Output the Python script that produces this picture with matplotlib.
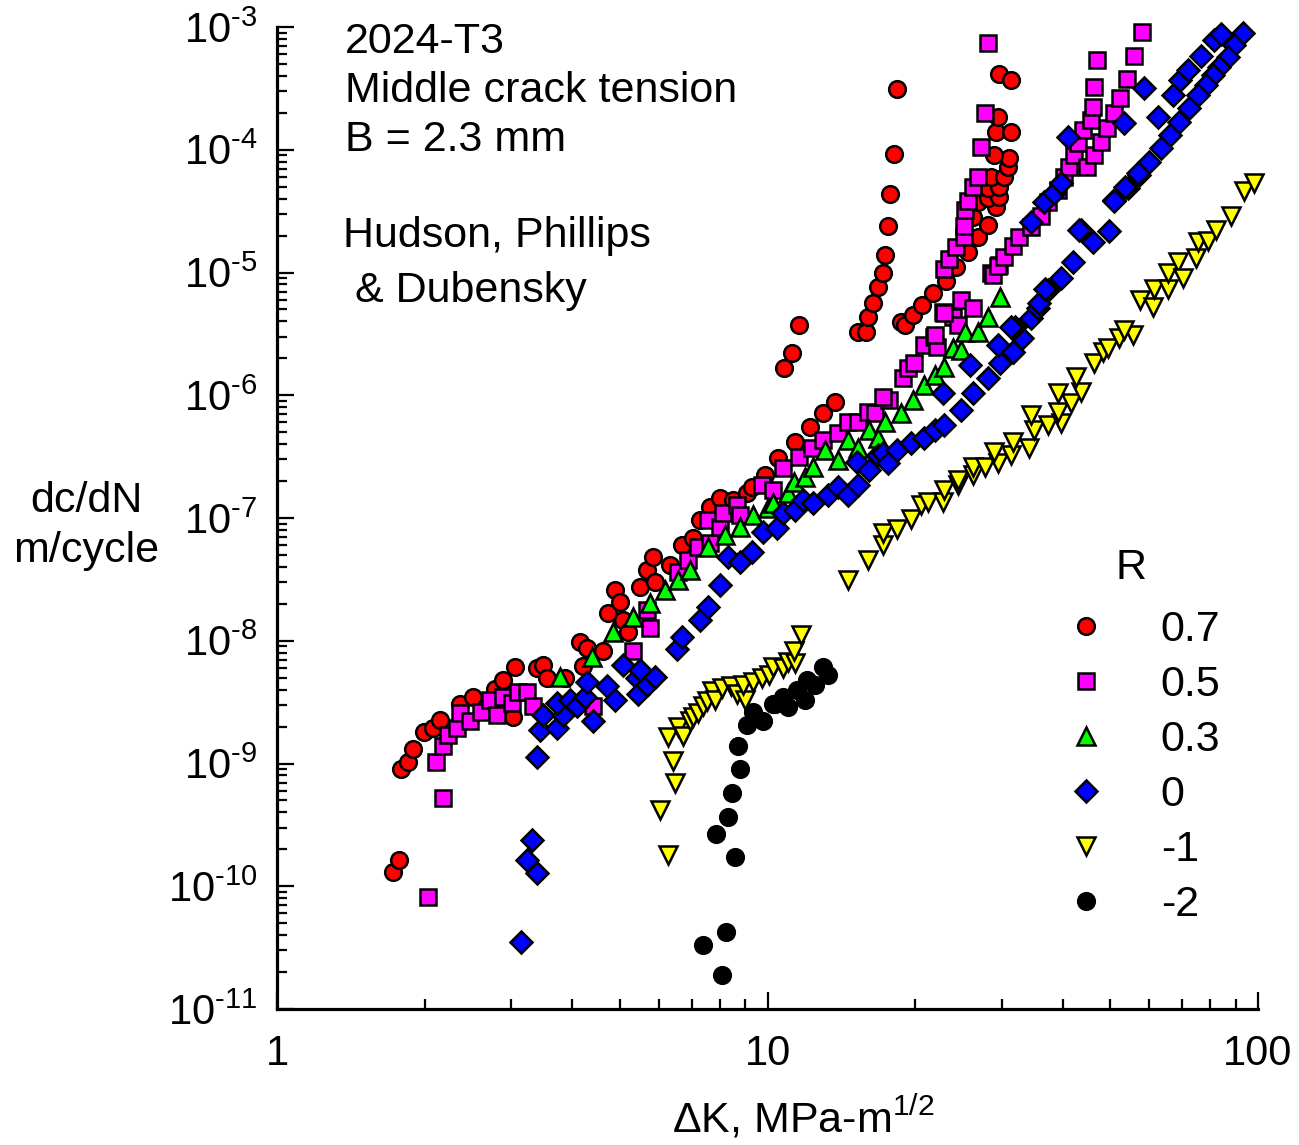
import matplotlib
matplotlib.use('Agg')
import numpy as np
import matplotlib.pyplot as plt
from matplotlib.ticker import LogLocator, FuncFormatter, NullFormatter

plt.rcParams['font.family'] = ['Liberation Sans', 'DejaVu Sans']
plt.rcParams['mathtext.fontset'] = 'custom'
plt.rcParams['mathtext.rm'] = 'Liberation Sans'
plt.rcParams['mathtext.it'] = 'Liberation Sans:italic'
plt.rcParams['mathtext.bf'] = 'Liberation Sans:bold'

# R = 0.7
r07_dk = [1.72, 1.77, 1.79, 1.85, 1.89, 1.99, 2.08, 2.15, 2.36, 2.51,
          2.78, 2.89, 3.06, 3.03, 3.39, 3.49, 3.56, 3.87, 4.15, 4.29,
          4.21, 4.63, 4.74, 4.89, 5.00, 5.08, 5.20, 5.50, 5.69, 5.85,
          5.90, 6.34, 6.70, 7.06, 7.30, 7.65, 8.00, 8.00, 8.52, 9.10,
          9.31, 9.90, 10.5, 11.4, 12.2, 12.95, 13.7, 10.8, 11.2, 11.6,
          15.3, 15.85, 16.0, 16.4, 16.8, 17.2, 17.4, 17.6, 17.8, 18.1,
          18.4, 18.7, 19.1, 19.8, 20.7, 21.7, 23.1, 24.2, 25.6, 26.9,
          28.2, 26.3, 29.2, 26.9, 28.1, 29.7, 28.1, 29.7, 28.5, 30.3,
          30.9, 31.0, 28.9, 29.2, 31.3, 29.5, 29.7, 31.3]
r07_rate = [1.3e-10, 1.63e-10, 9.0e-10, 1.02e-9, 1.32e-9, 1.79e-9, 1.96e-9, 2.28e-9, 3.03e-9, 3.45e-9,
            4.08e-9, 4.83e-9, 6.16e-9, 2.41e-9, 6.05e-9, 6.4e-9, 5.0e-9, 5.0e-9, 9.7e-9, 8.8e-9,
            6.2e-9, 8.2e-9, 1.69e-8, 2.6e-8, 2.08e-8, 1.48e-8, 1.18e-8, 2.75e-8, 3.79e-8, 4.83e-8,
            3.03e-8, 4.16e-8, 6.05e-8, 6.9e-8, 9.7e-8, 1.23e-7, 1.46e-7, 1.02e-7, 1.40e-7, 1.60e-7,
            1.79e-7, 2.24e-7, 3.08e-7, 4.16e-7, 5.5e-7, 7.2e-7, 8.8e-7, 1.66e-6, 2.2e-6, 3.72e-6,
            3.26e-6, 3.26e-6, 4.32e-6, 5.6e-6, 7.6e-6, 1.0e-5, 1.40e-5, 2.37e-5, 4.4e-5, 9.3e-5,
            3.14e-4, 3.93e-6, 3.72e-6, 4.48e-6, 5.4e-6, 6.8e-6, 8.6e-6, 1.10e-5, 1.46e-5, 1.93e-5,
            2.46e-5, 2.81e-5, 3.39e-5, 3.72e-5, 4.08e-5, 4.16e-5, 4.9e-5, 5.0e-5, 6.05e-5, 6.05e-5,
            7.3e-5, 8.6e-5, 9.1e-5, 1.40e-4, 1.40e-4, 1.86e-4, 4.16e-4, 3.72e-4]

# R = 0.5
r05_dk = [2.03, 2.18, 2.11, 2.18, 2.23, 2.33, 2.36, 2.48, 2.60, 2.72,
          2.81, 2.89, 3.02, 3.10, 3.24, 3.33, 4.41, 5.33, 5.77, 5.69,
          6.58, 6.89, 7.23, 7.65, 7.58, 8.00, 8.13, 8.68, 8.80, 9.76,
          10.28, 10.73, 11.57, 12.35, 13.0, 13.9, 14.6, 15.3, 16.0, 16.6,
          17.7, 17.2, 18.9, 19.3, 19.9, 20.8, 21.8, 22.2, 22.75, 23.9,
          24.8, 26.2, 24.4, 22.9, 23.4, 24.2, 25.1, 25.1, 25.3, 25.6,
          26.2, 26.8, 27.3, 27.7, 28.1, 28.5, 29.6, 28.8, 29.5, 30.3,
          31.6, 32.5, 34.4, 36.1, 37.4, 39.1, 40.2, 41.1, 42.1, 42.9,
          43.9, 44.8, 46.3, 47.8, 49.2, 45.6, 46.0, 46.3, 47.0, 50.8,
          52.3, 54.0, 55.8, 57.9, 22.9, 22.0]
r05_rate = [8.2e-11, 5.2e-10, 1.02e-9, 1.40e-9, 1.72e-9, 1.96e-9, 2.6e-9, 2.2e-9, 2.65e-9, 3.32e-9,
            2.5e-9, 3.51e-9, 3.14e-9, 3.79e-9, 3.79e-9, 2.92e-9, 2.92e-9, 8.2e-9, 1.28e-8, 1.79e-8,
            3.65e-8, 4.57e-8, 5.83e-8, 6.28e-8, 9.7e-8, 8.5e-8, 1.10e-7, 1.28e-7, 1.06e-7, 1.86e-7,
            1.69e-7, 2.55e-7, 3.14e-7, 3.72e-7, 4.32e-7, 4.92e-7, 6.05e-7, 6.05e-7, 7.3e-7, 7.2e-7,
            9.1e-7, 9.7e-7, 1.38e-6, 1.66e-6, 1.82e-6, 2.55e-6, 2.97e-6, 2.46e-6, 4.74e-6, 4.32e-6,
            5.95e-6, 5.1e-6, 3.72e-6, 1.06e-5, 1.28e-5, 1.6e-5, 1.93e-5, 2.37e-5, 3.26e-5, 3.79e-5,
            5.0e-5, 6.05e-5, 1.06e-4, 2.0e-4, 7.4e-4, 1.0e-5, 1.16e-5, 9.5e-6, 1.12e-5, 1.35e-5,
            1.63e-5, 1.96e-5, 2.33e-5, 2.86e-5, 3.72e-5, 4.74e-5, 6.05e-5, 7.3e-5, 9.1e-5, 1.14e-4,
            1.46e-4, 7.3e-5, 9.1e-5, 1.16e-4, 1.51e-4, 1.76e-4, 2.24e-4, 3.26e-4, 5.4e-4, 2.0e-4,
            2.65e-4, 3.79e-4, 5.83e-4, 9.1e-4, 4.65e-6, 3.08e-6]

# R = 0.3
r03_dk = [3.78, 4.39, 4.85, 5.33, 5.77, 6.19, 6.58, 6.95, 7.58, 8.19,
          8.80, 9.36, 10.0, 10.28, 11.0, 11.3, 11.95, 12.4, 13.1, 13.9,
          14.6, 15.3, 16.1, 16.8, 17.4, 18.7, 19.8, 20.8, 22.0, 22.9,
          23.85, 24.8, 25.3, 26.8, 28.2, 29.8]
r03_rate = [5.1e-9, 7.4e-9, 1.18e-8, 1.57e-8, 2.04e-8, 2.6e-8, 3.14e-8, 3.79e-8, 5.83e-8, 7.3e-8,
            8.5e-8, 1.06e-7, 1.21e-7, 1.32e-7, 1.6e-7, 1.96e-7, 2.16e-7, 2.6e-7, 3.58e-7, 2.97e-7,
            4.32e-7, 3.72e-7, 5.2e-7, 4.48e-7, 6.05e-7, 7.2e-7, 9.1e-7, 1.21e-6, 1.46e-6, 1.69e-6,
            2.41e-6, 2.33e-6, 3.26e-6, 3.26e-6, 4.32e-6, 6.28e-6]

# R = 0
r00_dk = [3.14, 3.39, 3.24, 3.31, 3.39, 3.44, 3.49, 3.73, 3.82, 3.73,
          3.96, 4.09, 4.25, 4.29, 4.41, 4.71, 4.89, 5.08, 5.43, 5.45,
          5.69, 5.90, 5.50, 6.55, 6.70, 7.30, 7.58, 8.00, 8.32, 8.80,
          9.31, 9.80, 10.48, 10.73, 11.4, 11.8, 12.4, 13.3, 13.9, 14.6,
          15.3, 15.2, 16.1, 16.8, 17.2, 17.6, 18.4, 19.6, 20.8, 22.0,
          22.9, 24.8, 26.3, 28.1, 29.8, 31.7, 33.1, 34.4, 35.6, 37.3,
          39.6, 41.9, 43.5, 46.0, 49.6, 50.8, 54.3, 57.2, 22.75, 25.9,
          29.5, 31.6, 32.0, 35.7, 36.8, 34.4, 36.6, 38.3, 39.6, 40.9,
          53.2, 58.5, 62.5, 67.0, 69.5, 71.9, 76.5, 81.3, 84.0, 93.1,
          89.3, 86.8, 83.2, 80.9, 78.3, 75.4, 72.3, 68.9, 66.2, 63.4,
          59.9, 56.9, 53.6, 50.8, 43.2, 31.3]
r00_rate = [3.51e-11, 1.28e-10, 1.63e-10, 2.37e-10, 1.14e-9, 1.89e-9, 2.5e-9, 1.96e-9, 2.5e-9, 3.14e-9,
            3.32e-9, 2.92e-9, 3.51e-9, 4.57e-9, 2.2e-9, 4.24e-9, 3.32e-9, 6.4e-9, 5.0e-9, 3.65e-9,
            4.4e-9, 5.1e-9, 5.83e-9, 8.5e-9, 1.08e-8, 1.48e-8, 1.89e-8, 2.86e-8, 4.83e-8, 4.4e-8,
            5.3e-8, 7.7e-8, 8.3e-8, 1.10e-7, 1.16e-7, 1.40e-7, 1.32e-7, 1.54e-7, 1.79e-7, 1.54e-7,
            1.86e-7, 2.86e-7, 2.46e-7, 3.26e-7, 3.39e-7, 2.81e-7, 3.58e-7, 4.08e-7, 4.48e-7, 5.2e-7,
            5.7e-7, 7.6e-7, 1.04e-6, 1.38e-6, 1.82e-6, 2.24e-6, 2.92e-6, 4.24e-6, 5.1e-6, 7.2e-6,
            9.0e-6, 1.21e-5, 2.24e-5, 1.76e-5, 2.16e-5, 3.93e-5, 4.92e-5, 6.28e-5, 1.04e-6, 1.76e-6,
            2.55e-6, 2.24e-6, 3.58e-6, 5.6e-6, 7.4e-6, 2.6e-5, 3.72e-5, 4.48e-5, 5.4e-5, 1.28e-4,
            1.66e-4, 3.2e-4, 1.86e-4, 2.81e-4, 3.72e-4, 4.48e-4, 5.83e-4, 7.87e-4, 8.8e-4, 9.0e-4,
            7.2e-4, 5.7e-4, 4.74e-4, 4.08e-4, 3.39e-4, 2.81e-4, 2.2e-4, 1.69e-4, 1.32e-4, 1.04e-4,
            8.0e-5, 6.52e-5, 5.0e-5, 3.79e-5, 2.24e-5, 3.58e-6]

# R = -1
rm1_dk = [6.27, 6.05, 6.48, 6.43, 6.27, 6.58, 6.73, 6.95, 7.06, 7.23,
          7.40, 7.54, 7.72, 7.83, 8.09, 8.42, 8.68, 9.0, 8.92, 9.36,
          9.76, 10.05, 10.28, 10.73, 11.03, 11.4, 11.3, 11.7, 14.6, 16.0,
          17.2, 17.2, 18.4, 19.6, 20.6, 21.2, 22.75, 22.9, 24.4, 24.4,
          26.3, 26.2, 27.8, 29.5, 28.9, 31.3, 31.7, 34.1, 34.9, 34.4,
          37.3, 39.6, 39.1, 41.5, 39.1, 43.5, 42.6, 46.3, 48.4, 49.4,
          52.0, 55.6, 53.2, 57.6, 61.0, 61.3, 65.5, 65.5, 68.6, 70.3,
          74.7, 75.4, 79.0, 82.0, 88.0, 93.6, 98.0]
rm1_rate = [1.79e-10, 4.16e-10, 6.9e-10, 1.04e-9, 1.63e-9, 2.0e-9, 1.66e-9, 2.2e-9, 2.37e-9, 2.6e-9,
            2.92e-9, 3.2e-9, 3.86e-9, 3.32e-9, 4.16e-9, 4.24e-9, 3.65e-9, 3.32e-9, 4.4e-9, 4.57e-9,
            5.0e-9, 5.3e-9, 6.16e-9, 6.05e-9, 6.77e-9, 6.64e-9, 8.2e-9, 1.12e-8, 3.14e-8, 4.57e-8,
            6.05e-8, 7.58e-8, 8.2e-8, 9.9e-8, 1.28e-7, 1.35e-7, 1.35e-7, 1.69e-7, 1.86e-7, 2.04e-7,
            2.24e-7, 2.6e-7, 2.6e-7, 2.81e-7, 3.45e-7, 3.26e-7, 4.16e-7, 3.72e-7, 5.2e-7, 6.9e-7,
            5.7e-7, 5.95e-7, 7.3e-7, 8.6e-7, 1.04e-6, 1.06e-6, 1.40e-6, 1.82e-6, 2.24e-6, 2.41e-6,
            2.92e-6, 3.08e-6, 3.39e-6, 5.95e-6, 5.2e-6, 7.4e-6, 7.4e-6, 1.0e-5, 1.21e-5, 9.1e-6,
            1.32e-5, 1.76e-5, 1.79e-5, 2.24e-5, 2.86e-5, 4.57e-5, 5.4e-5]

# R = -2
rm2_dk = [8.09, 7.40, 8.24, 8.60, 7.86, 8.32, 8.48, 8.80, 8.72, 9.10, 9.36,
          9.80, 10.24, 10.38, 10.78, 11.0, 11.5, 11.95, 12.06, 12.5, 13.0, 13.3]
rm2_rate = [1.89e-11, 3.32e-11, 4.24e-11, 1.72e-10, 2.65e-10, 3.65e-10, 5.7e-10, 9.0e-10, 1.38e-9, 2.04e-9, 2.65e-9,
            2.2e-9, 3.03e-9, 3.03e-9, 3.45e-9, 2.86e-9, 4.0e-9, 3.32e-9, 4.83e-9, 4.4e-9, 6.16e-9, 5.3e-9]

r_labels = ['0.7', '0.5', '0.3', '0', '-1', '-2']

W, H = 1299, 1145
fig = plt.figure(figsize=(W / 100, H / 100), dpi=100)
ax = fig.add_axes([277 / W, 1 - 1009 / H, (1258 - 277) / W, (1009 - 27) / H])

series = [
    (r07_dk, r07_rate, 'o', '#ff0000', 'black', 12),
    (r05_dk, r05_rate, 's', '#ff00ff', 'black', 11.5),
    (r03_dk, r03_rate, '^', '#00ff00', 'black', 13),
    (r00_dk, r00_rate, 'D', '#0000ff', 'black', 11),
    (rm1_dk, rm1_rate, 'v', '#ffff00', 'black', 13),
    (rm2_dk, rm2_rate, 'o', 'black', 'black', 12),
]

handles = []
for (dk, rate, mk, fc, ec, ms), lab in zip(series, r_labels):
    h, = ax.plot(dk, rate, ls='none', marker=mk, mfc=fc, mec=ec, mew=1.8, ms=ms,
                 clip_on=False, label=lab)
    handles.append(h)

ax.set_xscale('log')
ax.set_yscale('log')
ax.set_xlim(1, 100)
ax.set_ylim(1e-11, 1e-3)

for s in ['top', 'right']:
    ax.spines[s].set_visible(False)
for s in ['left', 'bottom']:
    ax.spines[s].set_linewidth(2.3)

ax.xaxis.set_major_locator(LogLocator(base=10, numticks=10))
ax.xaxis.set_minor_locator(LogLocator(base=10, subs=np.arange(2, 10), numticks=100))
ax.yaxis.set_major_locator(LogLocator(base=10, numticks=20))
ax.yaxis.set_minor_locator(LogLocator(base=10, subs=np.arange(2, 10), numticks=100))
ax.xaxis.set_major_formatter(FuncFormatter(lambda v, p: '%g' % v))
# hyphen-style minus in the exponent, as in the original figure
HYPH = '\u2010'
ax.yaxis.set_major_formatter(FuncFormatter(
    lambda v, p: '$\\mathregular{10^{' + HYPH + '%d}}$' % abs(int(round(np.log10(v))))))
ax.xaxis.set_minor_formatter(NullFormatter())
ax.yaxis.set_minor_formatter(NullFormatter())

ax.tick_params(which='both', direction='in', top=False, right=False, width=1.6)
ax.tick_params(which='major', length=12, labelsize=30)
ax.tick_params(which='minor', length=7)
ax.tick_params(axis='x', which='major', pad=18)
ax.tick_params(axis='y', which='major', pad=14)

# annotations
fs = 31
fig.text(345 / W, 1 - 53 / H, '2024-T3', fontsize=fs, va='baseline')
fig.text(345 / W, 1 - 102 / H, 'Middle crack tension', fontsize=fs, va='baseline')
fig.text(345 / W, 1 - 151 / H, 'B = 2.3 mm', fontsize=fs, va='baseline')
fig.text(343 / W, 1 - 247 / H, 'Hudson, Phillips', fontsize=fs, va='baseline')
fig.text(343 / W, 1 - 302 / H, ' & Dubensky', fontsize=fs, va='baseline')

fig.text(86 / W, 1 - 526 / H, 'dc/dN\nm/cycle', fontsize=fs, ha='center', va='center',
         multialignment='center', linespacing=1.3)
fig.text(803 / W, 1 - 1132 / H, 'ΔK, MPa-m$^{1/2}$', fontsize=fs, ha='center', va='baseline')

# legend: title "R" set apart, as in the original
fig.text(1131 / W, 1 - 568 / H, 'R', fontsize=fs, ha='center', va='center')
leg = ax.legend(handles=handles, labels=r_labels, loc='upper left',
                bbox_to_anchor=(1064 / W, 1 - 610 / H), bbox_transform=fig.transFigure,
                frameon=False, fontsize=fs, handlelength=1.0,
                handletextpad=1.25, labelspacing=0.35, borderpad=0, borderaxespad=0,
                numpoints=1)

fig.savefig('out.png', dpi=100)
